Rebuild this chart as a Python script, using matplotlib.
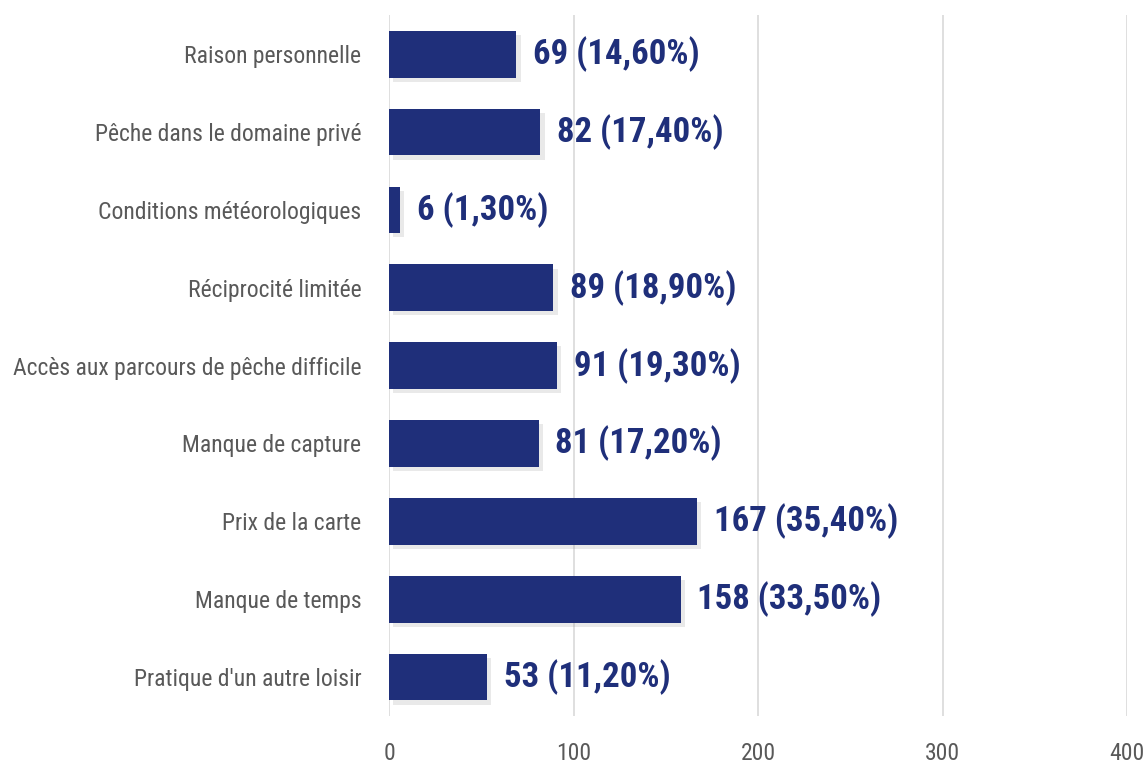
import matplotlib
matplotlib.use("Agg")
import matplotlib.pyplot as plt
from matplotlib import font_manager as fm
import matplotlib.patheffects as pe

categories = ["Raison personnelle", "Pêche dans le domaine privé", "Conditions météorologiques",
              "Réciprocité limitée", "Accès aux parcours de pêche difficile", "Manque de capture",
              "Prix de la carte", "Manque de temps", "Pratique d'un autre loisir"]
values = [69, 82, 6, 89, 91, 81, 167, 158, 53]
percents = ["14,60%", "17,40%", "1,30%", "18,90%", "19,30%", "17,20%", "35,40%", "33,50%", "11,20%"]
xticks = [0, 100, 200, 300, 400]

names = {f.name for f in fm.fontManager.ttflist}
cond = [n for n in sorted(names) if "Condensed" in n or "Narrow" in n]
prefs = ["Roboto Condensed", "Liberation Sans Narrow", "Open Sans Condensed"] + cond + ["Roboto", "Liberation Sans", "DejaVu Sans"]
narrow = next(p for p in prefs if p in names)
is_cond = ("Condensed" in narrow) or ("Narrow" in narrow)

navy = "#1F2F7A"
gray = "#595959"

fig = plt.figure(figsize=(11.48, 7.69), dpi=100)
ax = fig.add_axes([0.339, 0.069, 0.6427, 0.911])

ypos = list(range(len(categories)))
ax.barh(ypos, values, height=0.6, color=navy, zorder=3,
        path_effects=[pe.SimplePatchShadow(offset=(3, -3), shadow_rgbFace="#888888", alpha=0.18), pe.Normal()])
ax.set_ylim(len(categories) - 0.5, -0.5)
ax.set_xlim(0, 400)
ax.set_xticks(xticks)
ax.set_xticklabels([str(t) for t in xticks], fontfamily=narrow, fontsize=(17 if is_cond else 15), color=gray)
ax.set_yticks(ypos)
ax.set_yticklabels(categories, fontfamily=narrow, fontsize=(17 if is_cond else 13.5), color=gray)
ax.tick_params(axis="both", length=0)
ax.tick_params(axis="x", pad=19)
ax.tick_params(axis="y", pad=20)
ax.grid(axis="x", color="#D9D9D9", linewidth=1.2, zorder=0)
for s in ax.spines.values():
    s.set_visible(False)

for y, v, p in zip(ypos, values, percents):
    ax.annotate(f"{v} ({p})", xy=(v, y), xytext=(12, 0), textcoords="offset points",
                va="center", ha="left", fontfamily=narrow, fontsize=(25 if is_cond else 20),
                fontweight="bold", color=navy)

fig.savefig("out.png", dpi=100)
